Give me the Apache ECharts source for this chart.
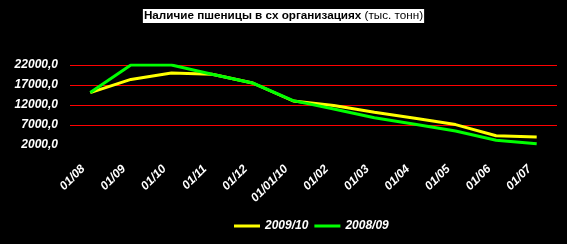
<!DOCTYPE html>
<html>
<head>
<meta charset="utf-8">
<script src="https://cdn.jsdelivr.net/npm/echarts@6/dist/echarts.min.js"></script>
<style>
html,body{margin:0;padding:0;background:#000;}
#c{width:567px;height:244px;}
</style>
</head>
<body>
<div id="c"></div>
<script>
var categories = ['01/08','01/09','01/10','01/11','01/12','01/01/10','01/02','01/03','01/04','01/05','01/06','01/07'];
var series2009 = [15100, 18400, 20000, 19700, 17500, 13000, 11900, 10200, 8700, 7100, 4300, 4000];
var series2008 = [15100, 22000, 22000, 19700, 17500, 13100, 11000, 8800, 7200, 5500, 3200, 2300];
var seriesNames = ['2009/10', '2008/09'];
var yMin = 2000, yMax = 22000, yStep = 5000;

var FONT = '"Liberation Sans", Arial, sans-serif';
var chart = echarts.init(document.getElementById('c'), null, {renderer: 'canvas'});
chart.setOption({
  backgroundColor: '#000',
  animation: false,
  title: {
    text: '{b|Наличие пшеницы в сх организациях} {n|(тыс. тонн)}',
    left: 'center',
    top: 9,
    padding: [1, 1, 1, 1],
    backgroundColor: '#fff',
    textStyle: {
      fontFamily: FONT,
      fontSize: 11.7,
      color: '#000',
      rich: {
        b: {fontFamily: FONT, fontSize: 11.7, fontWeight: 'bold', color: '#000'},
        n: {fontFamily: FONT, fontSize: 11.7, fontWeight: 'normal', color: '#000'}
      }
    }
  },
  legend: {
    left: 234,
    top: 220,
    padding: 0,
    icon: 'rect',
    itemWidth: 26,
    itemHeight: 3,
    itemGap: 6,
    data: seriesNames,
    textStyle: {color: '#fff', fontFamily: FONT, fontSize: 12, fontWeight: 'bold', fontStyle: 'italic'}
  },
  grid: {left: 70, right: 10, top: 65, bottom: 99, containLabel: false},
  xAxis: {
    type: 'category',
    data: categories,
    boundaryGap: true,
    axisLine: {show: false},
    axisTick: {show: false},
    axisLabel: {
      rotate: 45,
      margin: 15,
      interval: 0,
      padding: [0, 10, 0, 0],
      color: '#fff',
      fontFamily: FONT,
      fontSize: 12,
      fontWeight: 'bold',
      fontStyle: 'italic'
    }
  },
  yAxis: {
    type: 'value',
    min: yMin,
    max: yMax,
    interval: yStep,
    axisLine: {show: false},
    axisTick: {show: false},
    splitLine: {show: true, showMinLine: false, showMaxLine: true, lineStyle: {color: '#ff0000', width: 1, opacity: 1}},
    axisLabel: {
      margin: 12,
      color: '#fff',
      fontFamily: FONT,
      fontSize: 12,
      fontWeight: 'bold',
      fontStyle: 'italic',
      formatter: function (v) { return v.toFixed(1).replace('.', ','); }
    }
  },
  series: [
    {name: seriesNames[0], type: 'line', data: series2009, symbol: 'none',
     lineStyle: {color: '#ffff00', width: 3}, itemStyle: {color: '#ffff00'}},
    {name: seriesNames[1], type: 'line', data: series2008, symbol: 'none',
     lineStyle: {color: '#00ff00', width: 3}, itemStyle: {color: '#00ff00'}}
  ]
});
</script>
</body>
</html>
